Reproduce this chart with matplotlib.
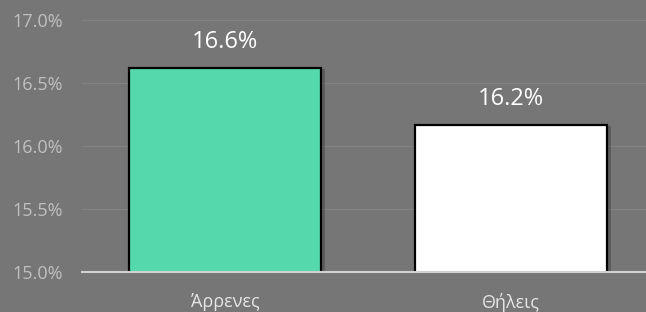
import matplotlib
matplotlib.use("Agg")
import matplotlib.pyplot as plt
import matplotlib.patheffects as pe

categories = ["Άρρενες", "Θήλεις"]
values = [16.62, 16.17]
labels = ["16.6%", "16.2%"]
colours = ["#55d9ac", "#ffffff"]
yticks = [15.0, 15.5, 16.0, 16.5, 17.0]

bg = "#767676"
plt.rcParams["font.family"] = ["Open Sans", "DejaVu Sans"]

fig = plt.figure(figsize=(6.46, 3.12), dpi=100, facecolor=bg)
ax = fig.add_axes([82 / 646, 40 / 312, 564 / 646, 252 / 312])
ax.set_facecolor(bg)

x = range(len(categories))
bars = ax.bar(x, values, width=0.67, color=colours, edgecolor="black",
              linewidth=1.6, zorder=3)
for b in bars:
    b.set_path_effects([pe.SimplePatchShadow(offset=(3, -1), shadow_rgbFace="black", alpha=0.22),
                        pe.Normal()])

for xi, v, lab in zip(x, values, labels):
    ax.text(xi, v + 0.11, lab, ha="center", va="bottom", color="white", fontsize=17)

ax.set_ylim(15.0, 17.0)
ax.set_xlim(-0.5, 1 + (646 - 511) / 286)
ax.set_yticks(yticks)
ax.set_yticklabels([f"{t:.1f}%" for t in yticks])
ax.set_xticks(list(x))
ax.set_xticklabels(categories)
ax.tick_params(axis="both", length=0, colors="#c0c0c0", labelsize=13)
ax.tick_params(axis="y", pad=14)
ax.tick_params(axis="x", pad=15, labelcolor="#e6e6e6")
ax.grid(axis="y", color="#828282", linewidth=0.8, zorder=0)
for s in ["top", "right", "left"]:
    ax.spines[s].set_visible(False)
ax.spines["bottom"].set_color("#d0d0d0")
ax.spines["bottom"].set_linewidth(1.5)
ax.spines["bottom"].set_zorder(4)

fig.savefig("out.png", dpi=100, facecolor=bg)
